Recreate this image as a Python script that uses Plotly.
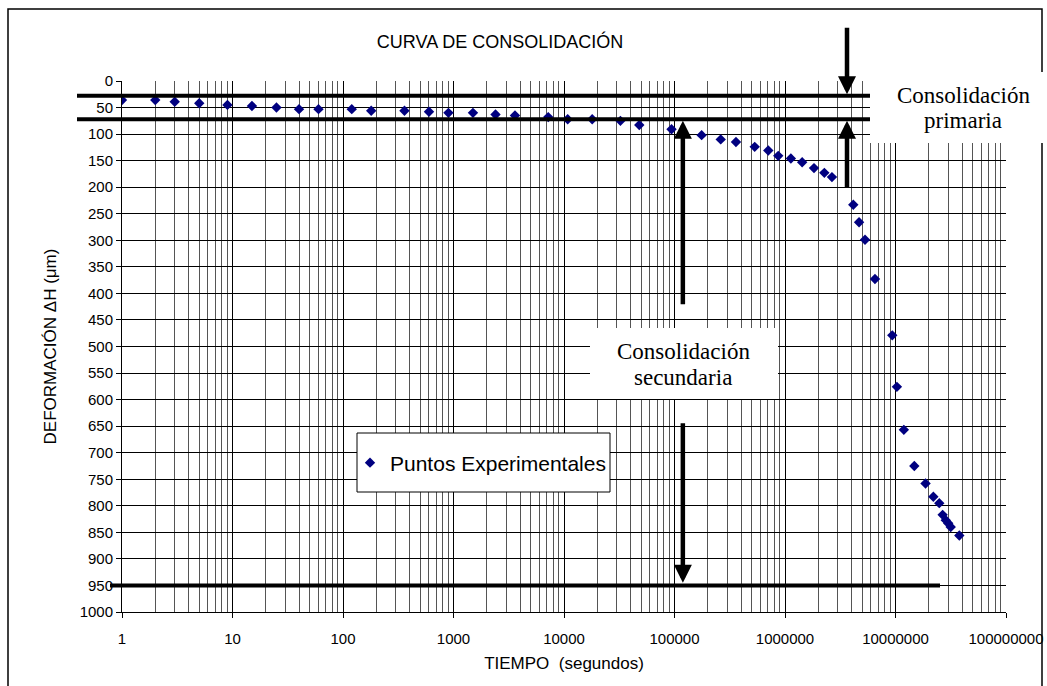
import numpy as np
import plotly.graph_objects as go

# ensayo de consolidacion: tiempo (s) vs deformacion (um)
tiempo = [1, 2, 3, 5, 9, 15, 25, 40, 60, 120,
          180, 360, 600, 900, 1500, 2400, 3600, 7200, 10800, 18000,
          32400, 48000, 94000, 176000, 262000, 360000, 532000, 706000, 869000, 1130000,
          1430000, 1830000, 2270000, 2660000, 4150000, 4680000, 5300000, 6520000, 9350000, 10300000,
          11900000, 14800000, 18700000, 22000000, 24900000, 26700000, 28500000, 30000000, 31600000, 37800000]
deformacion = [36, 36, 39, 42, 45, 47, 50, 53, 53, 53,
               56, 56, 58, 60, 60, 63, 65, 68, 72, 72,
               75, 83, 91, 102, 110, 115, 124, 131, 141, 146,
               153, 164, 173, 181, 233, 266, 299, 373, 479, 576,
               657, 725, 758, 783, 795, 817, 827, 833, 840, 856]

# limites dibujados a mano sobre la curva
limites = [28, 72, 950]
t_flecha_primaria = 3.64e6
t_flecha_secundaria = 1.19e5

ticks_x = [1, 10, 100, 1000, 10000, 100000, 1000000, 10000000, 100000000]
ticks_y = list(range(0, 1001, 50))

W, H = 1047, 686
L, R, T, B = 122, 41, 81, 74
pw, ph = W - L - R, H - T - B


def px(x):
    return (x - L) / pw


def py(y):
    return (H - B - y) / ph


fig = go.Figure()
fig.add_trace(go.Scatter(
    x=tiempo, y=deformacion, mode='markers', name='Puntos Experimentales',
    marker=dict(symbol='diamond', size=8, color='#000080'),
))

shapes = []
# marco exterior
shapes.append(dict(type='rect', xref='paper', yref='paper',
                   x0=px(8), x1=px(1042), y0=py(695), y1=py(9),
                   line=dict(color='black', width=1.5)))
# lineas gruesas
fins = [(77, 870), (77, 870), (110, 940)]
for v, (a, b) in zip(limites, fins):
    shapes.append(dict(type='line', xref='paper', yref='y', x0=px(a), x1=px(b),
                       y0=v, y1=v, line=dict(color='black', width=4)))
# cajas blancas de texto
shapes.append(dict(type='rect', xref='paper', yref='paper',
                   x0=px(870), x1=px(1050), y0=py(143), y1=py(72),
                   fillcolor='white', line=dict(width=0)))
shapes.append(dict(type='rect', xref='paper', yref='paper',
                   x0=px(590), x1=px(778), y0=py(399), y1=py(328),
                   fillcolor='white', line=dict(width=0)))
# caja de leyenda
shapes.append(dict(type='rect', xref='paper', yref='paper',
                   x0=px(357), x1=px(610), y0=py(492), y1=py(433),
                   fillcolor='white', line=dict(color='black', width=1)))

serif = dict(family='Liberation Serif', size=23, color='black')
annotations = []
for txt, x, y in [('Consolidación', 963, 95), ('primaria', 963, 120),
                  ('Consolidación', 683, 351), ('secundaria', 683, 377)]:
    annotations.append(dict(text=txt, xref='paper', yref='paper', x=px(x), y=py(y),
                            xanchor='center', yanchor='middle', showarrow=False, font=serif))

flecha = dict(xref='x', yref='y', showarrow=True, text='', arrowhead=2,
              arrowwidth=4.5, arrowsize=0.8, arrowcolor='black', ax=0)
lx1 = np.log10(t_flecha_primaria)
lx2 = np.log10(t_flecha_secundaria)
annotations.append(dict(flecha, x=lx1, y=limites[0] - 3, ay=-68))
annotations.append(dict(flecha, x=lx1, y=limites[1] + 3, ay=68))
annotations.append(dict(flecha, x=lx2, y=limites[1] + 3, ay=185))
annotations.append(dict(flecha, x=lx2, y=limites[2] - 5, ay=-161))

fig.update_layout(
    width=W, height=H, autosize=False,
    margin=dict(l=L, r=R, t=T, b=B),
    paper_bgcolor='white', plot_bgcolor='white',
    font=dict(family='Liberation Sans', color='black', size=15),
    title=dict(text='CURVA DE CONSOLIDACIÓN', x=500 / W, y=1 - 42 / H,
               xanchor='center', yanchor='middle', font=dict(size=18)),
    showlegend=True,
    legend=dict(x=px(350), y=py(463), xanchor='left', yanchor='middle',
                bgcolor='rgba(0,0,0,0)', borderwidth=0, font=dict(size=21)),
    shapes=shapes, annotations=annotations,
)
fig.update_xaxes(
    type='log', range=[0, 8], tickmode='array', tickvals=ticks_x,
    ticktext=[str(t) for t in ticks_x],
    showgrid=True, gridcolor='black', gridwidth=1,
    minor=dict(dtick='D1', showgrid=True, gridcolor='#555555', gridwidth=1, ticks=''),
    showline=True, linecolor='black', linewidth=1,
    ticks='outside', ticklen=5, tickcolor='black', ticklabelstandoff=8,
    title=dict(text='TIEMPO  (segundos)', font=dict(size=17), standoff=11),
    zeroline=False, automargin=False,
)
fig.update_yaxes(
    range=[1000, 0], tickmode='array', tickvals=ticks_y,
    showgrid=True, gridcolor='black', gridwidth=1,
    showline=True, linecolor='black', linewidth=1,
    ticks='outside', ticklen=5, tickcolor='black',
    title=dict(text='DEFORMACIÓN ΔH (μm)', font=dict(size=17), standoff=18),
    zeroline=False, automargin=False,
)

# la pagina trae 8px de margen en body; se quita para que cuadre con la ventana
fig.write_html('out.html', config={'displayModeBar': False},
               post_script="document.body.style.margin='0';")
